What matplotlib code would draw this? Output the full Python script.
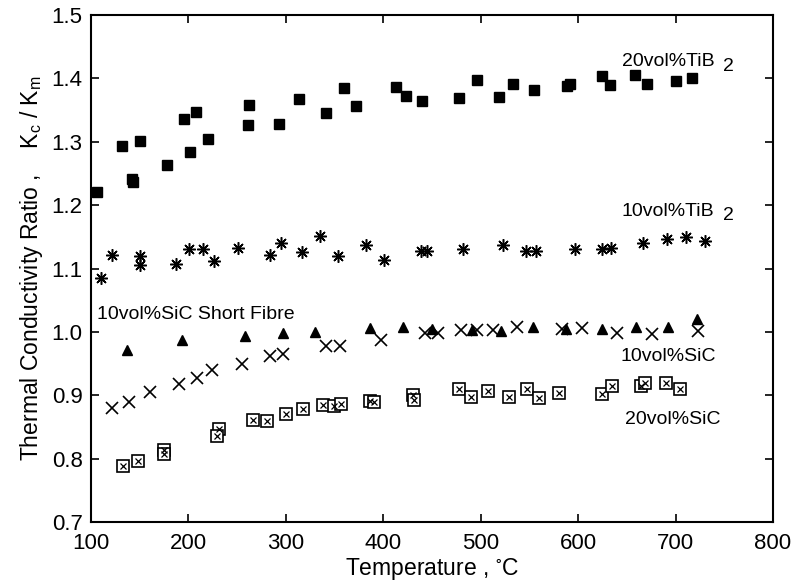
import matplotlib
matplotlib.use("Agg")
import matplotlib.pyplot as plt
from matplotlib.ticker import MultipleLocator, FormatStrFormatter

plt.rcParams['font.family'] = ['Liberation Sans', 'DejaVu Sans']

# 20vol%TiB2 (filled squares)
tib20_T = [106, 132, 150, 142, 143, 178, 195, 207.5, 201.6, 220, 262, 261, 293, 313, 341.6,
           360, 372, 413, 423, 440, 478, 496, 519, 533, 555, 589, 592, 624, 633, 658, 671, 700, 717]
tib20_K = [1.220, 1.294, 1.301, 1.242, 1.236, 1.264, 1.336, 1.347, 1.284, 1.304, 1.358, 1.326,
           1.328, 1.368, 1.346, 1.385, 1.356, 1.386, 1.372, 1.364, 1.369, 1.397, 1.371, 1.391,
           1.381, 1.388, 1.391, 1.403, 1.389, 1.405, 1.391, 1.396, 1.400]

# 10vol%TiB2 (asterisks)
tib10_T = [110, 122, 150, 150, 187, 200.6, 215, 226, 250.6, 284, 295, 316.6, 335, 354, 382, 401,
           439, 445, 482, 523, 547, 557, 597, 624, 634, 667, 691, 711, 730]
tib10_K = [1.085, 1.121, 1.120, 1.106, 1.107, 1.130, 1.130, 1.112, 1.132, 1.121, 1.141, 1.126,
           1.152, 1.120, 1.137, 1.114, 1.127, 1.127, 1.131, 1.137, 1.128, 1.128, 1.130, 1.130,
           1.132, 1.141, 1.146, 1.149, 1.144]

# 10vol%SiC short fibre (filled triangles)
fib_T = [137, 193, 258, 297, 330, 386, 420, 450.5, 491, 521, 554, 588, 624, 659, 692, 722]
fib_K = [0.972, 0.987, 0.993, 0.998, 1.000, 1.006, 1.007, 1.005, 1.003, 1.002, 1.007, 1.005,
         1.005, 1.008, 1.007, 1.021]

# 10vol%SiC (crosses)
sic10_T = [122, 139, 160.6, 190.7, 208.5, 224, 255, 284, 297, 341, 356, 398, 443, 456.6,
           479.6, 496.6, 513, 537, 583, 604, 640, 676, 723.5]
sic10_K = [0.880, 0.890, 0.905, 0.918, 0.927, 0.940, 0.950, 0.962, 0.965, 0.978, 0.978, 0.987,
           0.998, 0.999, 1.003, 1.003, 1.003, 1.007, 1.005, 1.006, 0.998, 0.997, 1.002]

# 20vol%SiC (boxed crosses)
sic20_T = [133, 148.6, 175, 175, 231, 229, 266, 281, 300, 318, 338.5, 349, 357, 386, 390,
           431, 432, 478, 490, 508, 529, 548, 560, 580.5, 624, 634.6, 665, 669, 690, 705]
sic20_K = [0.788, 0.797, 0.814, 0.808, 0.847, 0.836, 0.861, 0.860, 0.870, 0.879, 0.885, 0.883,
           0.886, 0.891, 0.890, 0.901, 0.893, 0.910, 0.898, 0.907, 0.897, 0.910, 0.895, 0.903,
           0.902, 0.915, 0.914, 0.919, 0.919, 0.910]

fig = plt.figure(figsize=(7.96, 5.86), dpi=100)
ax = fig.add_axes([0.1143, 0.1092, 0.8568, 0.8652])

ax.plot(tib20_T, tib20_K, linestyle='none', marker='s', markersize=7.5, color='black')
ax.plot(tib10_T, tib10_K, linestyle='none', marker=(8, 2, 0), markersize=9,
        markeredgewidth=1.1, color='black')
ax.plot(fib_T, fib_K, linestyle='none', marker='^', markersize=7, color='black')
ax.plot(sic10_T, sic10_K, linestyle='none', marker='x', markersize=9,
        markeredgewidth=1.2, color='black')
ax.plot(sic20_T, sic20_K, linestyle='none', marker='s', markersize=8.5,
        markerfacecolor='white', markeredgecolor='black', markeredgewidth=1.2)
ax.plot(sic20_T, sic20_K, linestyle='none', marker='x', markersize=5,
        markeredgewidth=0.9, color='black')

ax.set_xlim(100, 800)
ax.set_ylim(0.7, 1.5)
ax.xaxis.set_major_locator(MultipleLocator(100))
ax.yaxis.set_major_locator(MultipleLocator(0.1))
ax.yaxis.set_major_formatter(FormatStrFormatter('%.1f'))
ax.tick_params(direction='in', top=True, right=True, length=6, width=1.2,
               labelsize=16)
ax.tick_params(axis='x', pad=8)
ax.tick_params(axis='y', pad=6)
for s in ax.spines.values():
    s.set_linewidth(1.5)

ax.set_xlabel('Temperature , $\\mathregular{^{\\circ}}$C', fontsize=16.5, labelpad=1)
ax.set_ylabel('Thermal Conductivity Ratio ,    K$_\\mathregular{c}$ / K$_\\mathregular{m}$',
              fontsize=16.5, labelpad=5)

tk = dict(fontsize=14, color='black')
ax.text(645, 1.426, '20vol%TiB', ha='left', va='center', **tk)
ax.text(749, 1.419, '2', ha='left', va='center', **tk)
ax.text(645, 1.190, '10vol%TiB', ha='left', va='center', **tk)
ax.text(749, 1.183, '2', ha='left', va='center', **tk)
ax.text(106, 1.027, '10vol%SiC Short Fibre', ha='left', va='center', **tk)
ax.text(643, 0.961, '10vol%SiC', ha='left', va='center', **tk)
ax.text(648, 0.861, '20vol%SiC', ha='left', va='center', **tk)

fig.savefig('out.png', dpi=100)
